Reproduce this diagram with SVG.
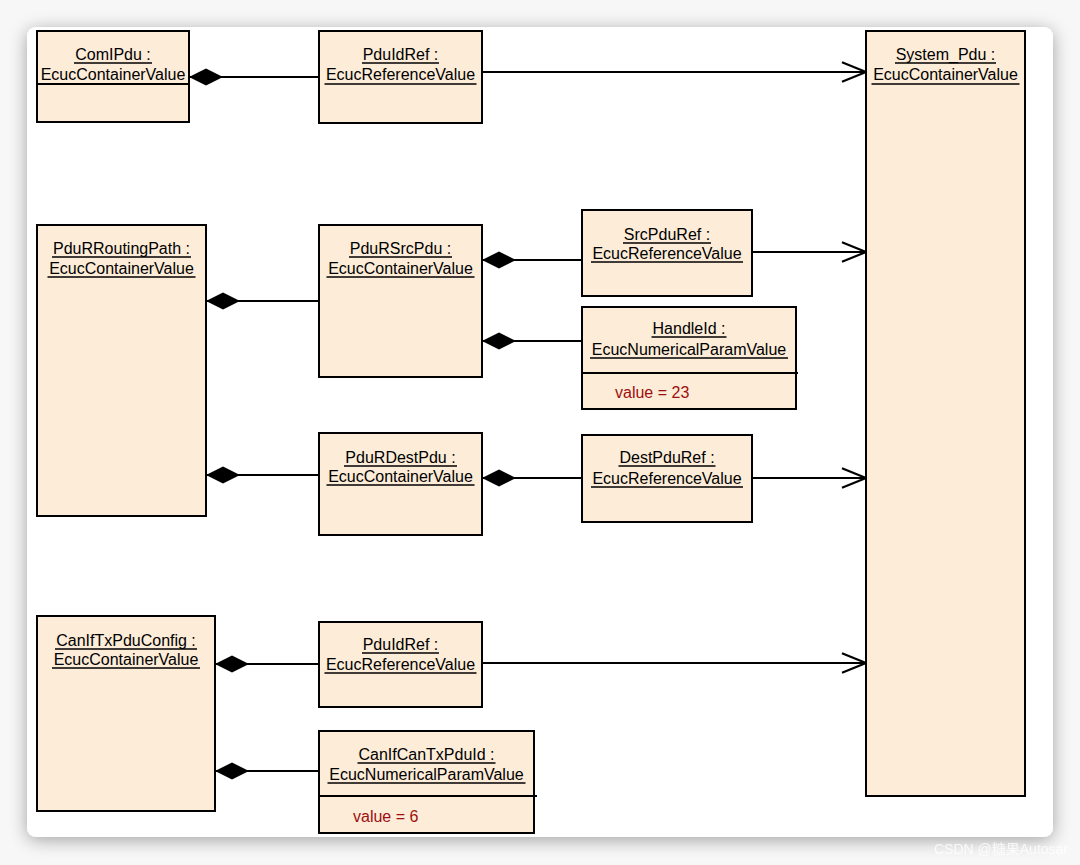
<svg xmlns="http://www.w3.org/2000/svg" width="1080" height="865" viewBox="0 0 1080 865">
<style>
.box{fill:#fdecd8;stroke:#000;stroke-width:2}
.t{font-family:"Liberation Sans",Arial,sans-serif;font-size:16px;text-anchor:middle;fill:#000}
.ul{stroke:#000;stroke-width:1.6}
.sep{stroke:#000;stroke-width:2}
.v{font-family:"Liberation Sans",Arial,sans-serif;font-size:16px;fill:#9e0f0f}
.c{stroke:#000;stroke-width:2;fill:none}
.wm{font-family:"Liberation Sans","Noto Sans CJK SC",sans-serif;font-size:14px;fill:#ffffff;opacity:0.8}
</style>
<defs>
<filter id="sh" x="-5%" y="-5%" width="110%" height="110%">
<feGaussianBlur in="SourceAlpha" stdDeviation="9"/>
<feOffset dy="3" result="b"/>
<feComponentTransfer><feFuncA type="linear" slope="0.35"/></feComponentTransfer>
<feMerge><feMergeNode/><feMergeNode in="SourceGraphic"/></feMerge>
</filter>
<marker id="dia" markerUnits="userSpaceOnUse" markerWidth="34" markerHeight="18" viewBox="0 0 32 16" refX="0" refY="8" orient="auto" overflow="visible">
<path d="M0,8 L16,0 L32,8 L16,16 Z" fill="#000"/>
</marker>
<marker id="arr" markerUnits="userSpaceOnUse" markerWidth="24" markerHeight="20" viewBox="0 0 22 18" refX="22" refY="9" orient="auto" overflow="visible">
<path d="M0,0 L22,9 L0,18" fill="none" stroke="#000" stroke-width="2"/>
</marker>
</defs>
<rect width="1080" height="865" fill="#f7f7f7"/>
<rect x="27" y="27" width="1026" height="810" rx="9" fill="#fff" filter="url(#sh)"/>
<text class="wm" x="934" y="854">CSDN @糖果Autosar</text>

<g id="connectors">
<line class="c" x1="189" y1="77" x2="319" y2="77" marker-start="url(#dia)"/>
<line class="c" x1="206" y1="301" x2="319" y2="301" marker-start="url(#dia)"/>
<line class="c" x1="206" y1="475" x2="319" y2="475" marker-start="url(#dia)"/>
<line class="c" x1="482" y1="260" x2="582" y2="260" marker-start="url(#dia)"/>
<line class="c" x1="482" y1="341" x2="582" y2="341" marker-start="url(#dia)"/>
<line class="c" x1="482" y1="478" x2="582" y2="478" marker-start="url(#dia)"/>
<line class="c" x1="215" y1="664" x2="319" y2="664" marker-start="url(#dia)"/>
<line class="c" x1="215" y1="771" x2="319" y2="771" marker-start="url(#dia)"/>
<line class="c" x1="482" y1="72" x2="866" y2="72" marker-end="url(#arr)"/>
<line class="c" x1="752" y1="252" x2="866" y2="252" marker-end="url(#arr)"/>
<line class="c" x1="752" y1="478" x2="866" y2="478" marker-end="url(#arr)"/>
<line class="c" x1="482" y1="663" x2="866" y2="663" marker-end="url(#arr)"/>
</g>

<g id="ComIPdu">
<rect class="box" x="37" y="31" width="152" height="91"/>
<text class="t" x="113" y="59.5">ComIPdu :</text>
<line class="ul" x1="74" y1="63" x2="152" y2="63"/>
<text class="t" x="113" y="80">EcucContainerValue</text>
<line class="sep" x1="37" y1="84" x2="189" y2="84"/>
</g>

<g id="PduIdRef1">
<rect class="box" x="319" y="31" width="163" height="92"/>
<text class="t" x="400.5" y="59.5">PduIdRef :</text>
<line class="ul" x1="362" y1="63" x2="439" y2="63"/>
<text class="t" x="400.5" y="80">EcucReferenceValue</text>
<line class="ul" x1="324.5" y1="84" x2="476.5" y2="84"/>
</g>

<g id="System_Pdu">
<rect class="box" x="866" y="31" width="159" height="765"/>
<text class="t" x="945.5" y="59.5">System_Pdu :</text>
<line class="ul" x1="895" y1="63" x2="996" y2="63"/>
<text class="t" x="945.5" y="80">EcucContainerValue</text>
<line class="ul" x1="871.5" y1="84" x2="1019.5" y2="84"/>
</g>

<g id="PduRRoutingPath">
<rect class="box" x="37" y="225" width="169" height="291"/>
<text class="t" x="121.5" y="253.5">PduRRoutingPath :</text>
<line class="ul" x1="52" y1="257" x2="191" y2="257"/>
<text class="t" x="121.5" y="273.5">EcucContainerValue</text>
<line class="ul" x1="47.5" y1="277" x2="195.5" y2="277"/>
</g>

<g id="PduRSrcPdu">
<rect class="box" x="319" y="225" width="163" height="152"/>
<text class="t" x="400.5" y="253.5">PduRSrcPdu :</text>
<line class="ul" x1="349" y1="257" x2="452" y2="257"/>
<text class="t" x="400.5" y="273.5">EcucContainerValue</text>
<line class="ul" x1="326.5" y1="277" x2="474.5" y2="277"/>
</g>

<g id="SrcPduRef">
<rect class="box" x="582" y="210" width="170" height="86"/>
<text class="t" x="667" y="239.5">SrcPduRef :</text>
<line class="ul" x1="623" y1="243" x2="711" y2="243"/>
<text class="t" x="667" y="258.5">EcucReferenceValue</text>
<line class="ul" x1="591" y1="262" x2="743" y2="262"/>
</g>

<g id="HandleId">
<rect class="box" x="582" y="307" width="214" height="102"/>
<text class="t" x="689" y="333.5">HandleId :</text>
<line class="ul" x1="651.5" y1="337" x2="726.5" y2="337"/>
<text class="t" x="689" y="354.5">EcucNumericalParamValue</text>
<line class="ul" x1="590" y1="358" x2="788" y2="358"/>
<line class="sep" x1="582" y1="373" x2="798" y2="373"/>
<text class="v" x="615" y="398">value = 23</text>
</g>

<g id="PduRDestPdu">
<rect class="box" x="319" y="433" width="163" height="102"/>
<text class="t" x="400.5" y="462.5">PduRDestPdu :</text>
<line class="ul" x1="344" y1="466" x2="457" y2="466"/>
<text class="t" x="400.5" y="481.5">EcucContainerValue</text>
<line class="ul" x1="326.5" y1="485" x2="474.5" y2="485"/>
</g>

<g id="DestPduRef">
<rect class="box" x="582" y="435" width="170" height="87"/>
<text class="t" x="667" y="462.5">DestPduRef :</text>
<line class="ul" x1="618.5" y1="466" x2="715.5" y2="466"/>
<text class="t" x="667" y="483.5">EcucReferenceValue</text>
<line class="ul" x1="591" y1="487" x2="743" y2="487"/>
</g>

<g id="CanIfTxPduConfig">
<rect class="box" x="37" y="616" width="178" height="195"/>
<text class="t" x="126" y="645.5">CanIfTxPduConfig :</text>
<line class="ul" x1="55" y1="649" x2="197" y2="649"/>
<text class="t" x="126" y="664.5">EcucContainerValue</text>
<line class="ul" x1="52" y1="668" x2="200" y2="668"/>
</g>

<g id="PduIdRef2">
<rect class="box" x="319" y="622" width="163" height="85"/>
<text class="t" x="400.5" y="649.5">PduIdRef :</text>
<line class="ul" x1="362" y1="653" x2="439" y2="653"/>
<text class="t" x="400.5" y="669.5">EcucReferenceValue</text>
<line class="ul" x1="324.5" y1="673" x2="476.5" y2="673"/>
</g>

<g id="CanIfCanTxPduId">
<rect class="box" x="319" y="731" width="215" height="102"/>
<text class="t" x="426.5" y="759.5">CanIfCanTxPduId :</text>
<line class="ul" x1="357.5" y1="763" x2="495.5" y2="763"/>
<text class="t" x="426.5" y="779.5">EcucNumericalParamValue</text>
<line class="ul" x1="327.5" y1="783" x2="525.5" y2="783"/>
<line class="sep" x1="319" y1="796" x2="537" y2="796"/>
<text class="v" x="353" y="822">value = 6</text>
</g>
</svg>
